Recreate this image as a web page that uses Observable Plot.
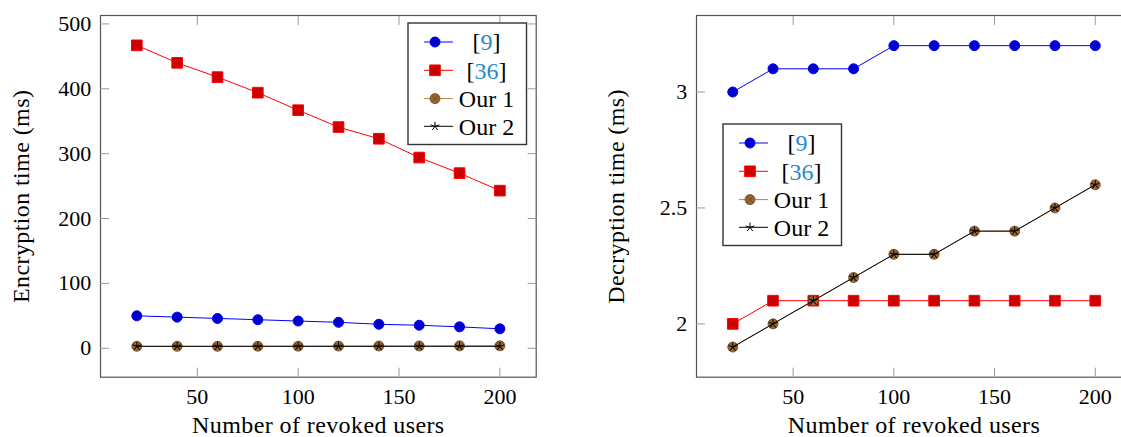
<!DOCTYPE html>
<html>
<head>
<meta charset="utf-8">
<script src="https://cdn.jsdelivr.net/npm/d3@7"></script>
<script src="https://cdn.jsdelivr.net/npm/@observablehq/plot@0.6"></script>
<style>
  html, body { margin: 0; padding: 0; background: #fff; overflow: hidden; }
  #wrap { position: relative; width: 1121px; height: 437px; overflow: hidden; }
  #wrap > svg, #wrap > div { position: absolute; top: 0; }
  #wrap g[aria-label="x-axis label"] text,
  #wrap g[aria-label="y-axis label"] text { font-size: 24px; letter-spacing: 0.4px; }
</style>
</head>
<body>
<div id="wrap"></div>
<script>
// ---- data ----
const users = [20, 40, 60, 80, 100, 120, 140, 160, 180, 200];
const series = ["[9]", "[36]", "Our 1", "Our 2"];
const enc9 = [50, 48, 46, 44, 42, 40, 37, 35.5, 33, 30];
const enc36 = [467, 440, 418, 394, 367, 341, 323, 294, 270, 243];
const encOur1 = [3, 3, 3, 3.1, 3.2, 3.4, 3.5, 3.6, 3.7, 3.8];
const encOur2 = [3, 3, 3, 3, 3, 3, 3, 3, 3, 3];
const dec9 = [3.0, 3.1, 3.1, 3.1, 3.2, 3.2, 3.2, 3.2, 3.2, 3.2];
const dec36 = [2.0, 2.1, 2.1, 2.1, 2.1, 2.1, 2.1, 2.1, 2.1, 2.1];
const decOur1 = [1.9, 2.0, 2.1, 2.2, 2.3, 2.3, 2.4, 2.4, 2.5, 2.6];
const decOur2 = [1.9, 2.0, 2.1, 2.2, 2.3, 2.3, 2.4, 2.4, 2.5, 2.6];
const xTicks = [50, 100, 150, 200];
const encTicks = [0, 100, 200, 300, 400, 500];
const decTicks = [2, 2.5, 3];

const FONT = "'Liberation Serif', serif";
const CITE = "#1f8ccc";

// custom symbols
const starSym = {draw(ctx, size) {
  const r = Math.sqrt(size / Math.PI);
  for (let i = 0; i < 5; i++) {
    const a = -Math.PI / 2 + i * 2 * Math.PI / 5;
    ctx.moveTo(0, 0); ctx.lineTo(r * Math.cos(a), r * Math.sin(a));
  }
}};
const otimesSym = {draw(ctx, size) {
  const r = Math.sqrt(size / Math.PI);
  ctx.moveTo(r, 0); ctx.arc(0, 0, r, 0, 2 * Math.PI); ctx.closePath();
  const k = r * Math.SQRT1_2;
  ctx.moveTo(-k, -k); ctx.lineTo(k, k);
  ctx.moveTo(-k, k); ctx.lineTo(k, -k);
}};

const styles = {
  "[9]":   {line: "#0000ff", sym: "circle", r: 5, fill: "#0000cc", stroke: "#0000ff", sw: 1},
  "[36]":  {line: "#ff0000", sym: "square", r: 6, fill: "#cc0000", stroke: "#ff0000", sw: 1},
  "Our 1": {line: "#bf8040", sym: otimesSym, r: 5, fill: "#996633", stroke: "#6b4520", sw: 0.8},
  "Our 2": {line: "#000000", sym: starSym, r: 4.6, fill: "none", stroke: "#000000", sw: 1}
};

function rows(vals) {
  const out = [];
  series.forEach((s, k) => vals[k].forEach((v, i) => out.push({s, x: users[i], y: v})));
  return out;
}
const encData = rows([enc9, enc36, encOur1, encOur2]);
const decData = rows([dec9, dec36, decOur1, decOur2]);

function seriesMarks(data) {
  const marks = [];
  for (const s of series) {
    const st = styles[s];
    const d = data.filter(r => r.s === s);
    marks.push(Plot.line(d, {x: "x", y: "y", stroke: st.line, strokeWidth: 1}));
    marks.push(Plot.dot(d, {x: "x", y: "y", symbol: st.sym, r: st.r, fill: st.fill, stroke: st.stroke, strokeWidth: st.sw}));
  }
  return marks;
}

function panel({data, yDomain, yTicks, yLabel, width, marginLeft, marginRight, labelOffset, tickFmt}) {
  return Plot.plot({
    width, height: 437,
    marginLeft, marginRight, marginTop: 15, marginBottom: 60.3,
    style: {fontFamily: FONT, fontSize: "22px", background: "transparent", color: "#000"},
    x: {domain: [2, 218]},
    y: {domain: yDomain},
    marks: [
      Plot.frame({stroke: "#555", strokeWidth: 1.2}),
      Plot.axisX(xTicks, {anchor: "bottom", tickSize: -9, tickPadding: 20, stroke: "#999", label: "Number of revoked users", labelAnchor: "center", labelArrow: "none", labelOffset: 56}),
      Plot.axisX(xTicks, {anchor: "top", tickSize: -9, tickFormat: () => "", stroke: "#999", label: null}),
      Plot.axisY(yTicks, {anchor: "left", tickSize: -9, tickPadding: 18.3, stroke: "#999", tickFormat: tickFmt, label: yLabel, labelAnchor: "center", labelArrow: "none", labelOffset}),
      Plot.axisY(yTicks, {anchor: "right", tickSize: -9, tickFormat: () => "", stroke: "#999", label: null}),
      ...seriesMarks(data)
    ]
  });
}

const wrap = document.getElementById("wrap");
const left = panel({data: encData, yDomain: [-44.6, 513], yTicks: encTicks, yLabel: "Encryption time (ms)", width: 560, marginLeft: 100, marginRight: 24.3, labelOffset: 89, tickFmt: d => String(d)});
left.style.left = "0px";
wrap.appendChild(left);
const right = panel({data: decData, yDomain: [1.77, 3.33], yTicks: decTicks, yLabel: "Decryption time (ms)", width: 600, marginLeft: 136, marginRight: 29, labelOffset: 90, tickFmt: d => String(d)});
right.style.left = "560px";
wrap.appendChild(right);

// legends
function legend(x0, y0) {
  const w = 118.5, h = 121.5;
  const svg = d3.select(wrap).append("svg")
    .attr("width", w + 4).attr("height", h + 4)
    .style("left", (x0 - 2) + "px").style("top", (y0 - 2) + "px");
  const g = svg.append("g").attr("transform", "translate(2,2)");
  g.append("rect").attr("width", w).attr("height", h).attr("fill", "#fff").attr("stroke", "#333").attr("stroke-width", 1.4);
  const rowY = [19, 47.3, 75.6, 103.3];
  series.forEach((s, i) => {
    const st = styles[s];
    const y = rowY[i];
    g.append("line").attr("x1", 16).attr("x2", 45).attr("y1", y).attr("y2", y).attr("stroke", st.line).attr("stroke-width", 1);
    const type = st.sym === "circle" ? d3.symbolCircle : st.sym === "square" ? d3.symbolSquare : st.sym;
    g.append("path").attr("transform", `translate(27,${y})`)
      .attr("d", d3.symbol(type, Math.PI * st.r * st.r)())
      .attr("fill", st.fill).attr("stroke", st.stroke).attr("stroke-width", st.sw);
    const t = g.append("text").attr("x", 78.5).attr("y", y).attr("dy", "0.35em")
      .attr("text-anchor", "middle").attr("font-family", FONT).attr("font-size", 24);
    const m = s.match(/^\[(\d+)\]$/);
    if (m) {
      t.append("tspan").text("[");
      t.append("tspan").attr("fill", CITE).text(m[1]);
      t.append("tspan").text("]");
    } else {
      t.text(s);
    }
  });
}
legend(408.3, 22.7);
legend(723.3, 123.5);
</script>
</body>
</html>
